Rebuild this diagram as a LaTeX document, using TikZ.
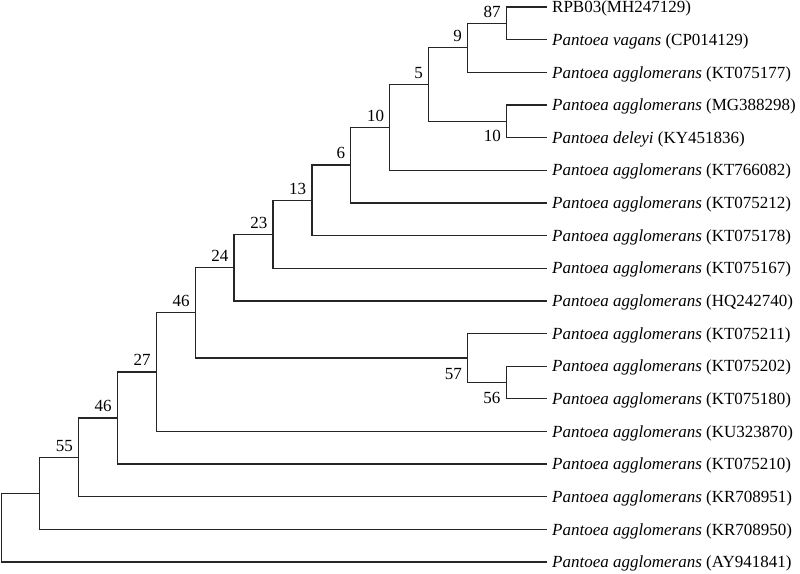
\documentclass[tikz,border=0pt]{standalone}
\usepackage{fontspec}
\setmainfont{Liberation Serif}
\begin{document}
\begin{tikzpicture}[x=1pt,y=-1pt,
  branch/.style={line width=1.3pt, draw=black!85, line join=miter},
  leaflab/.style={anchor=base west, inner sep=0pt, font=\fontsize{17}{20}\selectfont},
  bootlab/.style={anchor=east, inner sep=0pt, font=\fontsize{17}{20}\selectfont}]
\useasboundingbox (0,0) rectangle (800,573);
% leaf tips
\coordinate (l0) at (546.5,7);
\coordinate (l1) at (546.5,39.65);
\coordinate (l2) at (546.5,72.3);
\coordinate (l3) at (546.5,104.95);
\coordinate (l4) at (546.5,137.6);
\coordinate (l5) at (546.5,170.25);
\coordinate (l6) at (546.5,202.9);
\coordinate (l7) at (546.5,235.55);
\coordinate (l8) at (546.5,268.2);
\coordinate (l9) at (546.5,300.85);
\coordinate (l10) at (546.5,333.5);
\coordinate (l11) at (546.5,366.15);
\coordinate (l12) at (546.5,398.8);
\coordinate (l13) at (546.5,431.45);
\coordinate (l14) at (546.5,464.1);
\coordinate (l15) at (546.5,496.75);
\coordinate (l16) at (546.5,529.4);
\coordinate (l17) at (546.5,562.05);
% internal nodes
\coordinate (n87) at (506.4,23.3);
\coordinate (n10b) at (506.4,121.3);
\coordinate (n56) at (506.4,382.5);
\coordinate (n9) at (467.5,47.8);
\coordinate (n57) at (467.5,358);
\coordinate (n5) at (428.6,84.5);
\coordinate (n10a) at (389.7,127.4);
\coordinate (n6) at (350.8,165.1);
\coordinate (n13) at (311.9,200.3);
\coordinate (n23) at (273,234.3);
\coordinate (n24) at (234.1,267.6);
\coordinate (n46a) at (195.2,312.8);
\coordinate (n27) at (156.3,372.1);
\coordinate (n46b) at (117.4,418.1);
\coordinate (n55) at (78.5,457.4);
\coordinate (nx) at (39.6,493.4);
\coordinate (root) at (1.7,527.7);
% branches
\draw[branch] (l0) -| (n87) |- (l1);
\draw[branch] (n87) -| (n9) |- (l2);
\draw[branch] (n9) -| (n5) |- (n10b);
\draw[branch] (l3) -| (n10b) |- (l4);
\draw[branch] (n5) -| (n10a) |- (l5);
\draw[branch] (n10a) -| (n6) |- (l6);
\draw[branch] (n6) -| (n13) |- (l7);
\draw[branch] (n13) -| (n23) |- (l8);
\draw[branch] (n23) -| (n24) |- (l9);
\draw[branch] (n24) -| (n46a) |- (n57);
\draw[branch] (l10) -| (n57) |- (n56);
\draw[branch] (l11) -| (n56) |- (l12);
\draw[branch] (n46a) -| (n27) |- (l13);
\draw[branch] (n27) -| (n46b) |- (l14);
\draw[branch] (n46b) -| (n55) |- (l15);
\draw[branch] (n55) -| (nx) |- (l16);
\draw[branch] (nx) -| (root) |- (l17);
% leaf labels
\node[leaflab] (t0) at ([xshift=5.5pt,yshift=-5.7pt]l0) {RPB03(MH247129)};
\node[leaflab] (t1) at ([xshift=5.5pt,yshift=-5.7pt]l1) {\textit{Pantoea vagans} (CP014129)};
\node[leaflab] (t2) at ([xshift=5.5pt,yshift=-5.7pt]l2) {\textit{Pantoea agglomerans} (KT075177)};
\node[leaflab] (t3) at ([xshift=5.5pt,yshift=-5.7pt]l3) {\textit{Pantoea agglomerans} (MG388298)};
\node[leaflab] (t4) at ([xshift=5.5pt,yshift=-5.7pt]l4) {\textit{Pantoea deleyi} (KY451836)};
\node[leaflab] (t5) at ([xshift=5.5pt,yshift=-5.7pt]l5) {\textit{Pantoea agglomerans} (KT766082)};
\node[leaflab] (t6) at ([xshift=5.5pt,yshift=-5.7pt]l6) {\textit{Pantoea agglomerans} (KT075212)};
\node[leaflab] (t7) at ([xshift=5.5pt,yshift=-5.7pt]l7) {\textit{Pantoea agglomerans} (KT075178)};
\node[leaflab] (t8) at ([xshift=5.5pt,yshift=-5.7pt]l8) {\textit{Pantoea agglomerans} (KT075167)};
\node[leaflab] (t9) at ([xshift=5.5pt,yshift=-5.7pt]l9) {\textit{Pantoea agglomerans} (HQ242740)};
\node[leaflab] (t10) at ([xshift=5.5pt,yshift=-5.7pt]l10) {\textit{Pantoea agglomerans} (KT075211)};
\node[leaflab] (t11) at ([xshift=5.5pt,yshift=-5.7pt]l11) {\textit{Pantoea agglomerans} (KT075202)};
\node[leaflab] (t12) at ([xshift=5.5pt,yshift=-5.7pt]l12) {\textit{Pantoea agglomerans} (KT075180)};
\node[leaflab] (t13) at ([xshift=5.5pt,yshift=-5.7pt]l13) {\textit{Pantoea agglomerans} (KU323870)};
\node[leaflab] (t14) at ([xshift=5.5pt,yshift=-5.7pt]l14) {\textit{Pantoea agglomerans} (KT075210)};
\node[leaflab] (t15) at ([xshift=5.5pt,yshift=-5.7pt]l15) {\textit{Pantoea agglomerans} (KR708951)};
\node[leaflab] (t16) at ([xshift=5.5pt,yshift=-5.7pt]l16) {\textit{Pantoea agglomerans} (KR708950)};
\node[leaflab] (t17) at ([xshift=5.5pt,yshift=-5.7pt]l17) {\textit{Pantoea agglomerans} (AY941841)};
% support values
\node[bootlab] (b87) at ([xshift=-5.5pt,yshift=11.8pt]n87) {87};
\node[bootlab] (b9) at ([xshift=-5.5pt,yshift=11.8pt]n9) {9};
\node[bootlab] (b5) at ([xshift=-5.5pt,yshift=11.8pt]n5) {5};
\node[bootlab] (b10a) at ([xshift=-5.5pt,yshift=11.8pt]n10a) {10};
\node[bootlab] (b6) at ([xshift=-5.5pt,yshift=11.8pt]n6) {6};
\node[bootlab] (b13) at ([xshift=-5.5pt,yshift=11.8pt]n13) {13};
\node[bootlab] (b23) at ([xshift=-5.5pt,yshift=11.8pt]n23) {23};
\node[bootlab] (b24) at ([xshift=-5.5pt,yshift=11.8pt]n24) {24};
\node[bootlab] (b46a) at ([xshift=-5.5pt,yshift=11.8pt]n46a) {46};
\node[bootlab] (b27) at ([xshift=-5.5pt,yshift=11.8pt]n27) {27};
\node[bootlab] (b46b) at ([xshift=-5.5pt,yshift=11.8pt]n46b) {46};
\node[bootlab] (b55) at ([xshift=-5.5pt,yshift=11.8pt]n55) {55};
\node[bootlab] (b10b) at (501,135.5) {10};
\node[bootlab] (b57) at (462,374) {57};
\node[bootlab] (b56) at (500.5,397.5) {56};
\end{tikzpicture}
\end{document}
